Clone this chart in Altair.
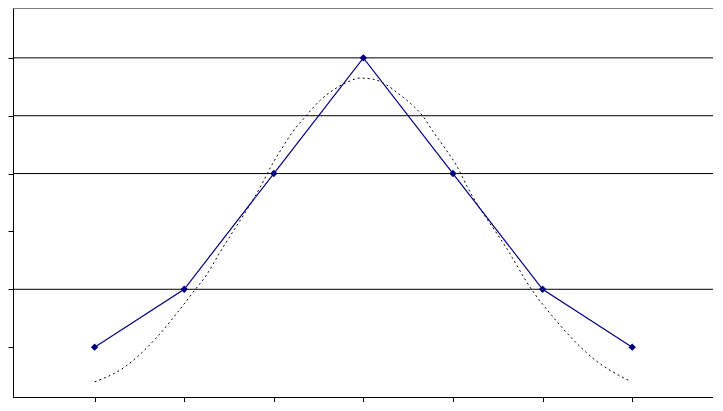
import altair as alt
import pandas as pd

# observed series
cat_x = [1, 2, 3, 4, 5, 6, 7]
obs_y = [1, 2, 4, 6, 4, 2, 1]

# fitted (dotted) curve
fit_x = [1.00, 1.32, 1.70, 1.92, 2.10, 2.25, 2.40, 2.85, 2.99, 3.10, 3.21, 3.35, 3.52, 3.66, 3.82, 3.96,
         4.11, 4.26, 4.41, 4.55, 4.67, 4.78, 4.91, 5.05, 5.16, 5.61, 5.88, 6.08, 6.31, 6.56, 6.98]
fit_y = [0.40, 0.64, 1.18, 1.59, 1.95, 2.25, 2.64, 3.77, 4.18, 4.46, 4.72, 4.98, 5.27, 5.44, 5.58, 5.65,
         5.63, 5.53, 5.36, 5.18, 4.98, 4.72, 4.44, 4.11, 3.77, 2.68, 1.99, 1.59, 1.18, 0.81, 0.41]

grid_vals = [2, 4, 5, 6]
y_ticks = [1, 2, 3, 4, 5, 6]

obs = pd.DataFrame({"x": cat_x, "y": obs_y})
fit = pd.DataFrame({"x": fit_x, "y": fit_y})
grid = pd.DataFrame({"g": grid_vals})

xs = alt.Scale(domain=[0.0893, 7.902], nice=False, zero=False)
ys = alt.Scale(domain=[0.138, 6.862], nice=False, zero=False)

x_axis = alt.Axis(values=cat_x, labels=False, title=None, grid=False, domainColor="black",
                  tickColor="black", tickSize=5, domainWidth=1, tickWidth=1)
y_axis = alt.Axis(values=y_ticks, labels=False, title=None, grid=False, domainColor="black",
                  tickColor="black", tickSize=5, domainWidth=1, tickWidth=1)

gridlines = alt.Chart(grid).mark_rule(color="black", strokeWidth=1).encode(
    y=alt.Y("g:Q", scale=ys, axis=y_axis)
)

fit_line = alt.Chart(fit).mark_line(color="black", strokeWidth=1, strokeDash=[2, 3],
                                    interpolate="monotone").encode(
    x=alt.X("x:Q", scale=xs, axis=x_axis),
    y=alt.Y("y:Q", scale=ys, axis=y_axis),
)

obs_line = alt.Chart(obs).mark_line(color="#000080", strokeWidth=1.2).encode(
    x=alt.X("x:Q", scale=xs, axis=x_axis),
    y=alt.Y("y:Q", scale=ys, axis=y_axis),
)

obs_pts = alt.Chart(obs).mark_point(shape="diamond", filled=True, color="#000080", size=55, opacity=1).encode(
    x=alt.X("x:Q", scale=xs, axis=x_axis),
    y=alt.Y("y:Q", scale=ys, axis=y_axis),
)

chart = alt.layer(gridlines, fit_line, obs_line, obs_pts).properties(
    width=700, height=389, padding={"left": 5, "top": 0, "right": 0, "bottom": 5},
    autosize=alt.AutoSizeParams(type="none"),
    background="white",
).configure_view(stroke="#808080", strokeWidth=1)

chart.save("out.html", embed_options={"renderer": "svg", "actions": False})
